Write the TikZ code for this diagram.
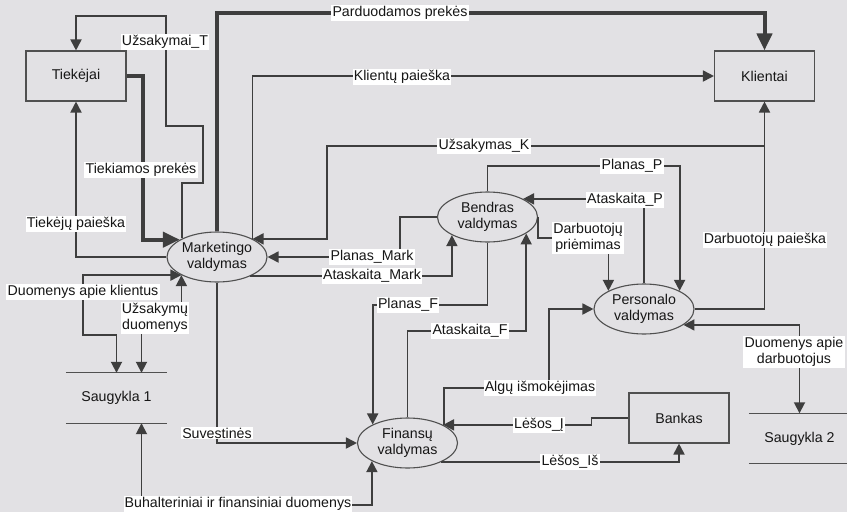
\documentclass[tikz,border=0pt]{standalone}
\usepackage{fontspec}
\setmainfont{Liberation Sans}
\usetikzlibrary{arrows.meta,shapes.geometric}
\definecolor{bg}{RGB}{226,225,228}
\definecolor{ln}{RGB}{62,62,62}
\definecolor{bx}{RGB}{80,80,80}
\definecolor{tx}{RGB}{22,22,22}
\begin{document}
\begin{tikzpicture}[x=1pt,y=-1pt,
  every node/.style={font=\fontsize{14.2}{16.5}\selectfont, text=tx},
  ent/.style={draw=bx, line width=1.1pt, minimum width=100pt, minimum height=50pt, inner sep=0pt},
  proc/.style={ellipse, draw=bx, line width=1.1pt, fill=bg, minimum width=100pt, minimum height=50pt, inner sep=0pt, align=center},
  store/.style={minimum width=101pt, minimum height=50pt, inner sep=0pt},
  stline/.style={draw=bx, line width=1.1pt},
  flow/.style={draw=ln, line width=1.8pt, -{Triangle[width=11pt,length=11pt]}},
  bflow/.style={draw=ln, line width=1.8pt, {Triangle[width=11pt,length=11pt]}-{Triangle[width=11pt,length=11pt]}},
  thickflow/.style={draw=ln, line width=4pt, -{Triangle[width=15pt,length=17pt]}},
  lbl/.style={fill=white, inner sep=1.2pt, align=center}
]
\fill[bg] (0,0) rectangle (847,512);
\useasboundingbox (0,0) rectangle (847,512);

% entities
\node[ent] (T) at (76,76) {Tiekėjai};
\node[ent] (K) at (764.5,76) {Klientai};
\node[ent] (Bk) at (679,418) {Bankas};
\node[store] (S1) at (116.5,398) {Saugykla 1};
\node[store] (S2) at (799.5,438.5) {Saugykla 2};
\draw[stline] (S1.north west) -- (S1.north east);
\draw[stline] (S1.south west) -- (S1.south east);
\draw[stline] (S2.north west) -- (S2.north west -| 847,0);
\draw[stline] (S2.south west) -- (S2.south west -| 847,0);

% processes
\node[proc] (M) at (217,257) {Marketingo\\valdymas};
\node[proc] (B) at (487.5,217) {Bendras\\valdymas};
\node[proc] (P) at (644,309) {Personalo\\valdymas};
\node[proc] (F) at (407.5,443) {Finansų\\valdymas};

% flows
\draw[flow] (M.152.9) |- (203,183) |- (166,126) |- (76,16) -- (T.north);
\draw[thickflow] (M.north) |- (K.north |- 0,13) -- (K.north);
\draw[flow] (M.27.1) |- (K.west);
\draw[thickflow] (T.east) -- ++(16,0) |- (M.155.1);
\draw[flow] (M.west) -| (T.south);
\draw[flow] (K.south) |- (327,146) |- (M.27.4);
\draw[flow] (P.east) -| (K.south);
\draw[flow] (B.west) -| (400,257) -- (M.east);
\draw[flow] (M.-30.3) -| (B.207.7);
\draw[bflow] (M.207.4) -| (83,335) -| (S1.north);
\draw[bflow] (M.207.1) |- (150,318) -| ([xshift=25pt]S1.north);
\draw[flow] (M.south) |- (F.west);
\draw[bflow] ([xshift=25pt]S1.south) |- (300,505) -| (F.207.7);
\draw[flow] (B.north) |- (600,166) -| (P.27.0);
\draw[flow] (P.north) |- (B.27.4);
\draw[flow] (B.east) |- (570,238) -| (P.153.0);
\draw[flow] (B.south) |- (400,305) -| (F.152.3);
\draw[flow] (F.north) |- (470,331) -| (B.-23.8);
\draw[flow] (F.26.4) |- (549,388) |- (P.west);
\draw[flow] (Bk.west) -- ++(-37,0) |- (F.27.4);
\draw[flow] (F.-30.3) -| (Bk.south);
\draw[bflow] (P.-22.6) -| (S2.north);

% labels
\node[lbl] (l1) at (165,42) {Užsakymai\_T};
\node[lbl] (l2) at (400,13) {Parduodamos prekės};
\node[lbl] (l3) at (402,77) {Klientų paieška};
\node[lbl] (l4) at (141,170) {Tiekiamos prekės};
\node[lbl] (l5) at (76,224) {Tiekėjų paieška};
\node[lbl] (l6) at (484,146) {Užsakymas\_K};
\node[lbl] (l7) at (632,166) {Planas\_P};
\node[lbl] (l8) at (625,200) {Ataskaita\_P};
\node[lbl] (l9) at (588,238) {Darbuotojų\\priėmimas};
\node[lbl] (l10) at (765,240) {Darbuotojų paieška};
\node[lbl] (l11) at (372,257) {Planas\_Mark};
\node[lbl] (l12) at (372,276) {Ataskaita\_Mark};
\node[lbl] (l13) at (83,292) {Duomenys apie klientus};
\node[lbl] (l14) at (155,318) {Užsakymų\\duomenys};
\node[lbl] (l15) at (408,305) {Planas\_F};
\node[lbl] (l16) at (470,331) {Ataskaita\_F};
\node[lbl] (l17) at (540,388) {Algų išmokėjimas};
\node[lbl] (l18) at (539,425) {Lėšos\_Į};
\node[lbl] (l19) at (570,462) {Lėšos\_Iš};
\node[lbl] (l20) at (794,352) {Duomenys apie\\darbuotojus};
\node[lbl] (l21) at (217,433) {Suvestinės};
\node[lbl] (l22) at (238,504) {Buhalteriniai ir finansiniai duomenys};
\end{tikzpicture}
\end{document}
